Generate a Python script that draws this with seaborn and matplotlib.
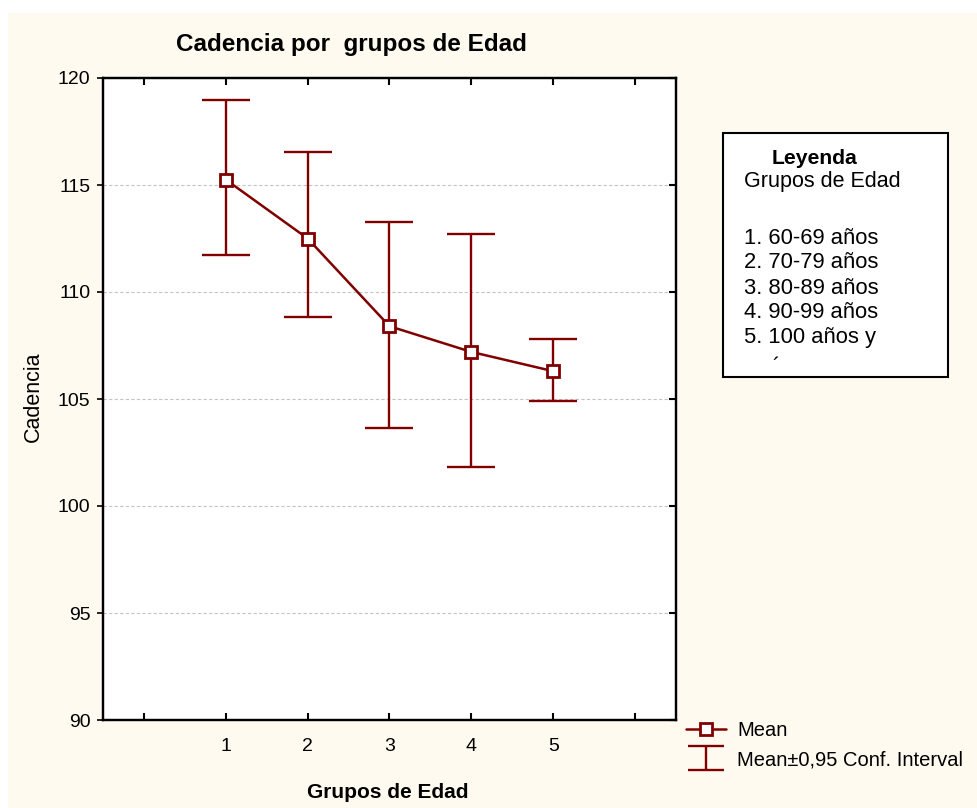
import numpy as np
import pandas as pd
import matplotlib
matplotlib.use('Agg')
import matplotlib.pyplot as plt
import seaborn as sns
from matplotlib.patches import Rectangle
from matplotlib.lines import Line2D
from matplotlib.legend_handler import HandlerErrorbar
from matplotlib.container import ErrorbarContainer

# ---- data ----
grupos = [1, 2, 3, 4, 5]
media = [115.25, 112.5, 108.4, 107.2, 106.3]
ic_sup = [118.97, 116.54, 113.25, 112.7, 107.8]
ic_inf = [111.72, 108.82, 103.65, 101.8, 104.9]
xticks = [0, 1, 2, 3, 4, 5, 6]
xticklabels = ['', '1', '2', '3', '4', '5', '']
yticks = [90, 95, 100, 105, 110, 115, 120]
leyenda_titulo = 'Leyenda'
leyenda_sub = 'Grupos de Edad'
leyenda_lineas = ['1. 60-69 años', '2. 70-79 años', '3. 80-89 años',
                  '4. 90-99 años', '5. 100 años y']
etiquetas_leyenda = ['Mean', 'Mean±0,95 Conf. Interval']

sns.set_theme(style='ticks')
plt.rcParams['font.family'] = ['Liberation Sans', 'DejaVu Sans']
plt.rcParams['text.color'] = 'black'
plt.rcParams['axes.labelcolor'] = 'black'
plt.rcParams['xtick.color'] = 'black'
plt.rcParams['ytick.color'] = 'black'

color = '#800000'
bg = '#FFFAF0'
W, H = 978, 808

fig = plt.figure(figsize=(W / 100, H / 100), dpi=100)
fig.patch.set_facecolor('white')
fig.add_artist(Rectangle((8 / W, 0), 1, 1 - 13 / H, transform=fig.transFigure,
                         facecolor=bg, edgecolor='none', zorder=-10))

ax = fig.add_axes([103 / W, 1 - 720 / H, (676 - 103) / W, (720 - 78) / H])
ax.set_facecolor('white')

df = pd.DataFrame({'Grupo': grupos, 'Media': media, 'Sup': ic_sup, 'Inf': ic_inf})

yerr = [df['Media'] - df['Inf'], df['Sup'] - df['Media']]
ax.errorbar(df['Grupo'], df['Media'], yerr=yerr, fmt='none', ecolor=color,
            elinewidth=1.7, capsize=17, capthick=1.7, zorder=3)
sns.lineplot(data=df, x='Grupo', y='Media', ax=ax, color=color, lw=1.8,
             marker='s', markersize=9, markerfacecolor='white',
             markeredgecolor=color, markeredgewidth=2.0, zorder=4)

ax.set_xlim(-0.5, 6.5)
ax.set_ylim(90, 120)
ax.set_xticks(xticks)
ax.set_xticklabels(xticklabels)
ax.set_yticks(yticks)
ax.set_yticklabels([str(v) for v in yticks])
ax.set_xlabel('')
ax.set_ylabel('')
ax.tick_params(axis='x', direction='in', top=True, bottom=True, length=5,
               width=1.5, labelsize=14, pad=13)
ax.tick_params(axis='y', direction='out', left=True, right=False, length=4,
               width=1.2, labelsize=14, pad=5)
ax.yaxis.grid(True, linestyle=(0, (3, 2)), color='#c4c4c4', lw=0.8)
ax.xaxis.grid(False)
for s in ax.spines.values():
    s.set_visible(True)
    s.set_color('black')
    s.set_linewidth(1.6)

ax2 = ax.twinx()
ax2.set_ylim(90, 120)
ax2.set_yticks(yticks)
ax2.tick_params(axis='y', direction='in', right=True, left=False, length=5,
                width=1.5, labelright=False)
for s in ax2.spines.values():
    s.set_color('black')
    s.set_linewidth(1.6)

# titles
fig.text(351 / W, 1 - 45 / H, 'Cadencia por  grupos de Edad', ha='center',
         va='center', fontsize=17.5, fontweight='bold')
fig.text(33 / W, 1 - 397 / H, 'Cadencia', rotation=90, ha='center',
         va='center', fontsize=15.5)
fig.text(388 / W, 1 - 792 / H, 'Grupos de Edad', ha='center', va='center',
         fontsize=15, fontweight='bold')

# legend box
fig.add_artist(Rectangle((723 / W, 1 - 377 / H), (948 - 723) / W, (377 - 133) / H,
                         transform=fig.transFigure, facecolor='white',
                         edgecolor='black', lw=1.5, zorder=1))
fig.text(772 / W, 1 - 158 / H, leyenda_titulo, ha='left', va='center',
         fontsize=15.2, fontweight='bold', zorder=2)
fig.text(744 / W, 1 - 182 / H, leyenda_sub, ha='left', va='center',
         fontsize=15.5, zorder=2)
for i, t in enumerate(leyenda_lineas):
    fig.text(744 / W, 1 - (238 + 25 * i) / H, t, ha='left', va='center',
             fontsize=15.8, zorder=2)
fig.text(772 / W, 1 - 368 / H, '´', ha='left', va='center', fontsize=15.5, zorder=2)

# bottom legend
h_mean = Line2D([], [], color=color, lw=1.8, marker='s', markersize=9,
                markerfacecolor='white', markeredgecolor=color,
                markeredgewidth=2.0)
h_ci = ax.errorbar([np.nan], [np.nan], yerr=[1], fmt='none', ecolor=color,
                   elinewidth=1.7, capsize=13, capthick=1.7)
fig.legend([h_mean, h_ci], etiquetas_leyenda, loc='upper left',
           bbox_to_anchor=(686 / W, 1 - 721 / H), frameon=False,
           fontsize=14.5, handlelength=2.0, handletextpad=0.55,
           labelspacing=0.5, borderpad=0, borderaxespad=0,
           handler_map={ErrorbarContainer: HandlerErrorbar(xerr_size=0.6)})

fig.savefig('out.png', dpi=100, facecolor=fig.get_facecolor())
